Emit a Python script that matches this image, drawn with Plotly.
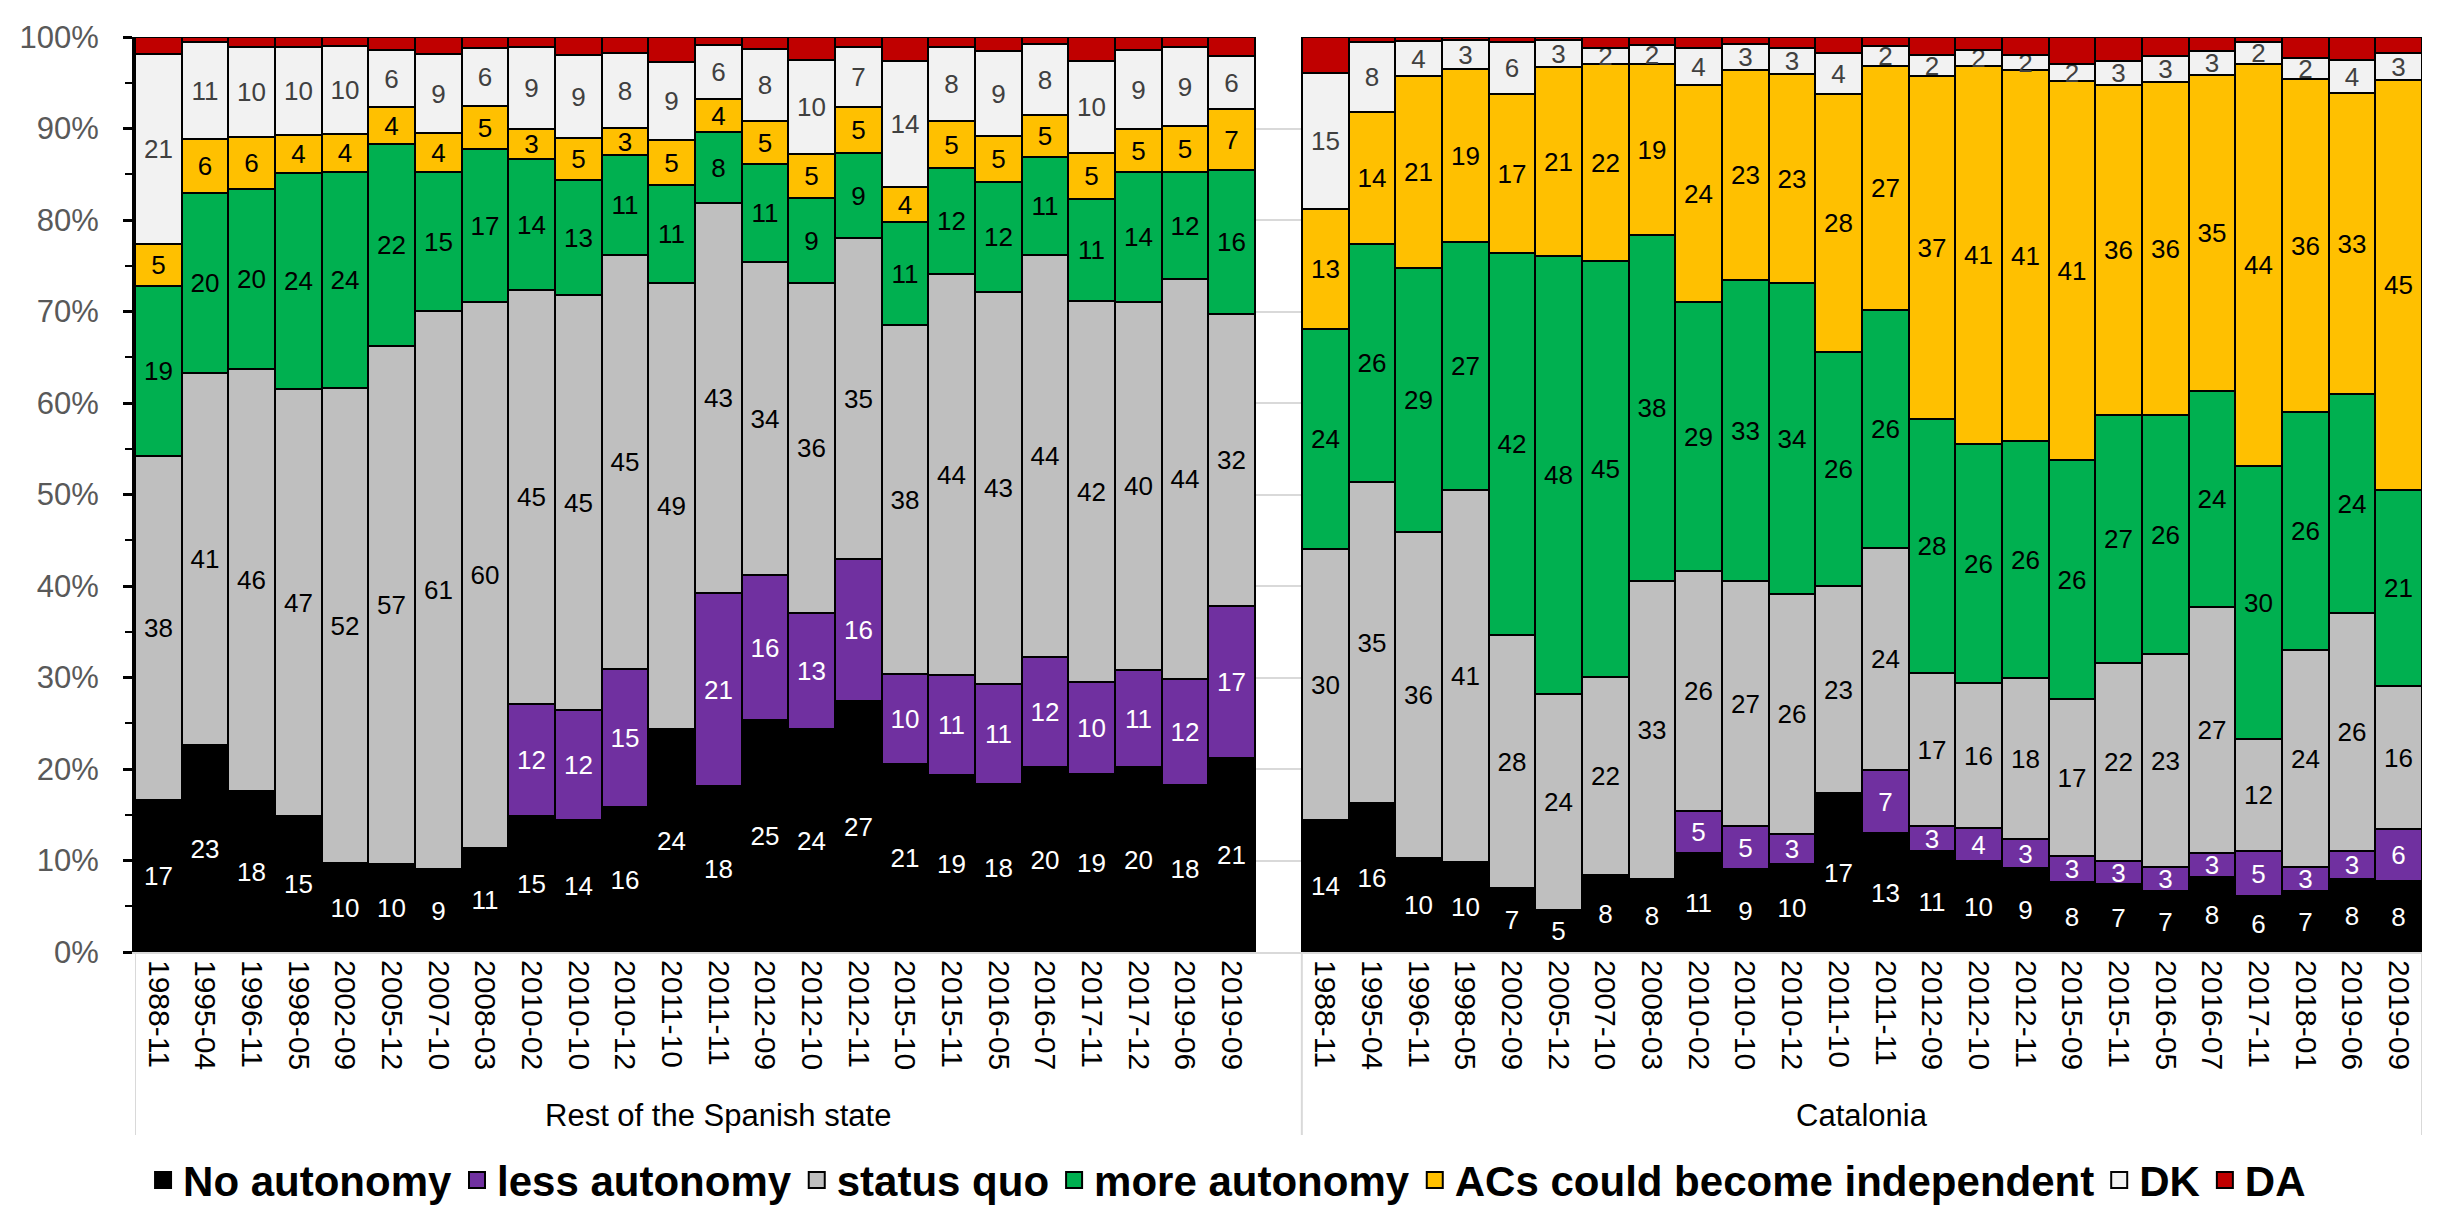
import plotly.graph_objects as go

# ---------------- data ----------------
cats_rest = ["1988-11", "1995-04", "1996-11", "1998-05", "2002-09", "2005-12", "2007-10", "2008-03",
             "2010-02", "2010-10", "2010-12", "2011-10", "2011-11", "2012-09", "2012-10", "2012-11",
             "2015-10", "2015-11", "2016-05", "2016-07", "2017-11", "2017-12", "2019-06", "2019-09"]
cats_cat = ["1988-11", "1995-04", "1996-11", "1998-05", "2002-09", "2005-12", "2007-10", "2008-03",
            "2010-02", "2010-10", "2010-12", "2011-10", "2011-11", "2012-09", "2012-10", "2012-11",
            "2015-09", "2015-11", "2016-05", "2016-07", "2017-11", "2018-01", "2019-06", "2019-09"]

rest_no = [16.6, 22.6, 17.6, 14.9, 9.7, 9.6, 9.1, 11.4, 14.9, 14.4, 15.8, 24.4,
           18.1, 25.4, 24.4, 27.4, 20.6, 19.3, 18.4, 20.2, 19.4, 20.2, 18.2, 21.2]
rest_less = [None, None, None, None, None, None, None, None, 12.2, 12.1, 15.1, None,
             21.1, 15.8, 12.7, 15.6, 9.8, 11.0, 10.9, 12.0, 10.1, 10.6, 11.6, 16.6]
rest_sq = [37.6, 40.7, 46.1, 46.6, 51.9, 56.6, 61.0, 59.6, 45.3, 45.3, 45.3, 48.7,
           42.7, 34.2, 36.0, 35.0, 38.1, 43.8, 42.8, 44.0, 41.6, 40.2, 43.7, 31.9]
rest_more = [18.6, 19.7, 19.7, 23.6, 23.6, 22.1, 15.2, 16.8, 14.3, 12.6, 10.9, 10.7,
             7.7, 10.7, 9.3, 9.3, 11.3, 11.6, 12.0, 10.7, 11.2, 14.3, 11.8, 15.8]
rest_ind = [4.6, 5.8, 5.7, 4.2, 4.2, 4.0, 4.2, 4.7, 3.3, 4.6, 3.0, 4.9,
            3.6, 4.7, 4.8, 5.0, 3.8, 5.1, 5.1, 4.6, 5.0, 4.6, 5.0, 6.6]
rest_dk = [20.7, 10.6, 9.8, 9.6, 9.6, 6.3, 8.6, 6.3, 8.9, 9.0, 8.2, 8.6,
           5.9, 7.9, 10.3, 6.6, 13.8, 8.1, 9.3, 7.7, 10.1, 8.7, 8.6, 5.8]
rest_da = [1.9, 0.6, 1.1, 1.1, 1.0, 1.4, 1.9, 1.2, 1.1, 2.0, 1.7, 2.7,
           0.9, 1.3, 2.5, 1.1, 2.6, 1.1, 1.5, 0.8, 2.6, 1.4, 1.1, 2.1]

cat_no = [14.4, 16.3, 10.3, 9.8, 7.0, 4.6, 8.4, 8.0, 10.8, 9.1, 9.6, 17.4,
          13.0, 11.0, 9.9, 9.2, 7.7, 7.4, 6.7, 8.2, 6.1, 6.7, 8.0, 7.8]
cat_less = [None, None, None, None, None, None, None, None, 4.6, 4.7, 3.3, None,
            6.9, 2.8, 3.6, 3.2, 2.8, 2.6, 2.6, 2.6, 4.9, 2.6, 3.0, 5.6]
cat_sq = [29.6, 35.1, 35.6, 40.7, 27.6, 23.6, 21.7, 32.6, 26.2, 26.7, 26.2, 22.6,
          24.3, 16.7, 15.9, 17.6, 17.2, 21.6, 23.3, 26.9, 12.3, 23.7, 26.0, 15.7]
cat_more = [24.1, 26.0, 28.8, 27.1, 41.8, 47.9, 45.4, 37.8, 29.4, 32.9, 34.0, 25.6,
            26.0, 27.8, 26.1, 25.8, 26.1, 27.1, 26.1, 23.6, 29.8, 26.0, 24.0, 21.4]
cat_ind = [13.1, 14.4, 21.0, 18.9, 17.4, 20.6, 21.6, 18.6, 23.7, 23.0, 22.9, 28.2,
           26.6, 37.4, 41.3, 40.6, 41.4, 36.0, 36.4, 34.6, 43.9, 36.4, 32.9, 44.8]
cat_dk = [14.9, 7.6, 3.9, 3.2, 5.6, 3.0, 1.7, 2.1, 4.1, 2.8, 2.8, 4.4,
          2.2, 2.3, 1.8, 1.6, 1.9, 2.7, 2.8, 2.6, 2.4, 2.3, 3.6, 3.0]
cat_da = [3.9, 0.6, 0.4, 0.3, 0.6, 0.3, 1.2, 0.9, 1.2, 0.8, 1.2, 1.8,
          1.0, 2.0, 1.4, 2.0, 2.9, 2.6, 2.1, 1.5, 0.6, 2.3, 2.5, 1.7]

y_ticks = [0, 10, 20, 30, 40, 50, 60, 70, 80, 90, 100]
group_names = ["Rest of the Spanish state", "Catalonia"]
series_names = ["No autonomy", "less autonomy", "status quo", "more autonomy",
                "ACs could become independent", "DK", "DA"]

# ---------------- styles ----------------
FONT = "Liberation Sans, Arial, sans-serif"
colors = ["#000000", "#7030A0", "#BFBFBF", "#00B050", "#FFC000", "#F2F2F2", "#C00000"]
text_colors = ["#FFFFFF", "#FFFFFF", "#000000", "#000000", "#000000", "#404040", None]
LABEL_SIZE = 26

# positions: left group 0..23, an empty slot, right group 25..48
n = len(cats_rest)
x_left = list(range(n))
x_right = list(range(n + 1, 2 * n + 1))
xs = x_left + x_right

series = [
    rest_no + cat_no,
    rest_less + cat_less,
    rest_sq + cat_sq,
    rest_more + cat_more,
    rest_ind + cat_ind,
    rest_dk + cat_dk,
    rest_da + cat_da,
]

fig = go.Figure()
for name, vals, col, tcol in zip(series_names, series, colors, text_colors):
    if tcol is not None:
        kw = dict(texttemplate="%{y:.0f}", textposition="inside", insidetextanchor="middle",
                  textangle=0, textfont=dict(family=FONT, size=LABEL_SIZE, color=tcol),
                  constraintext="none")
    else:
        kw = dict(textposition="none")
    fig.add_trace(go.Bar(x=xs, y=vals, name=name,
                         marker=dict(color=col, line=dict(color="#000000", width=2)),
                         width=1.0, showlegend=False, cliponaxis=False, **kw))

# legend entries (larger square swatches)
for name, col in zip(series_names, colors):
    fig.add_trace(go.Scatter(x=[None], y=[None], mode="markers", name=name,
                             marker=dict(symbol="square", size=16, color=col,
                                         line=dict(color="#000000", width=2))))

fig.update_layout(
    width=2443, height=1216,
    barmode="stack", bargap=0,
    paper_bgcolor="#FFFFFF", plot_bgcolor="#FFFFFF",
    margin=dict(l=123, r=29, t=29, b=272),
    font=dict(family=FONT, color="#000000"),
    uniformtext=dict(minsize=LABEL_SIZE, mode="show"),
    legend=dict(orientation="h", xref="container", yref="container", x=0.499, y=0.036,
                xanchor="center", yanchor="middle", traceorder="normal",
                font=dict(family=FONT, size=42, color="#000000", weight="bold"),
                itemsizing="trace", bgcolor="rgba(0,0,0,0)"),
)

fig.update_xaxes(
    range=[-0.5, 2 * n + 0.5], tickmode="array", tickvals=xs, ticktext=cats_rest + cats_cat,
    tickangle=90, tickfont=dict(family=FONT, size=30, color="#000000"),
    showgrid=False, zeroline=False, showline=True, linecolor="#D9D9D9", linewidth=2,
    ticks="", fixedrange=True,
)
fig.update_yaxes(
    range=[0, 100], tickmode="array", tickvals=y_ticks, ticktext=[f"{v}%" for v in y_ticks],
    tickfont=dict(family=FONT, size=31, color="#595959"),
    showgrid=True, gridcolor="#D9D9D9", gridwidth=2, zeroline=False,
    showline=True, linecolor="#000000", linewidth=3,
    ticks="outside", ticklen=9, tickwidth=3, tickcolor="#000000", ticklabelstandoff=18,
    minor=dict(dtick=5, ticks="outside", ticklen=7, tickwidth=2, tickcolor="#000000", showgrid=False),
)

# group labels of the two-level category axis
fig.add_annotation(x=n / 2, y=-0.179, xref="x", yref="paper", text=group_names[0], showarrow=False,
                   font=dict(family=FONT, size=31, color="#000000"), yanchor="middle")
fig.add_annotation(x=(x_right[0] + x_right[-1]) / 2, y=-0.179, xref="x", yref="paper", text=group_names[1],
                   showarrow=False, font=dict(family=FONT, size=31, color="#000000"), yanchor="middle")

# group separators in the label area
for xv in [-0.5, n + 0.5, 2 * n + 0.5]:
    fig.add_shape(type="line", xref="x", yref="paper", x0=xv, x1=xv, y0=0, y1=-0.2,
                  line=dict(color="#D9D9D9", width=2))
# outer frame line on the right
fig.add_shape(type="line", xref="paper", yref="paper", x0=1.0113, x1=1.0113, y0=1.03, y1=-0.2,
              line=dict(color="#A6A6A6", width=2))

fig.write_html("out.html")
